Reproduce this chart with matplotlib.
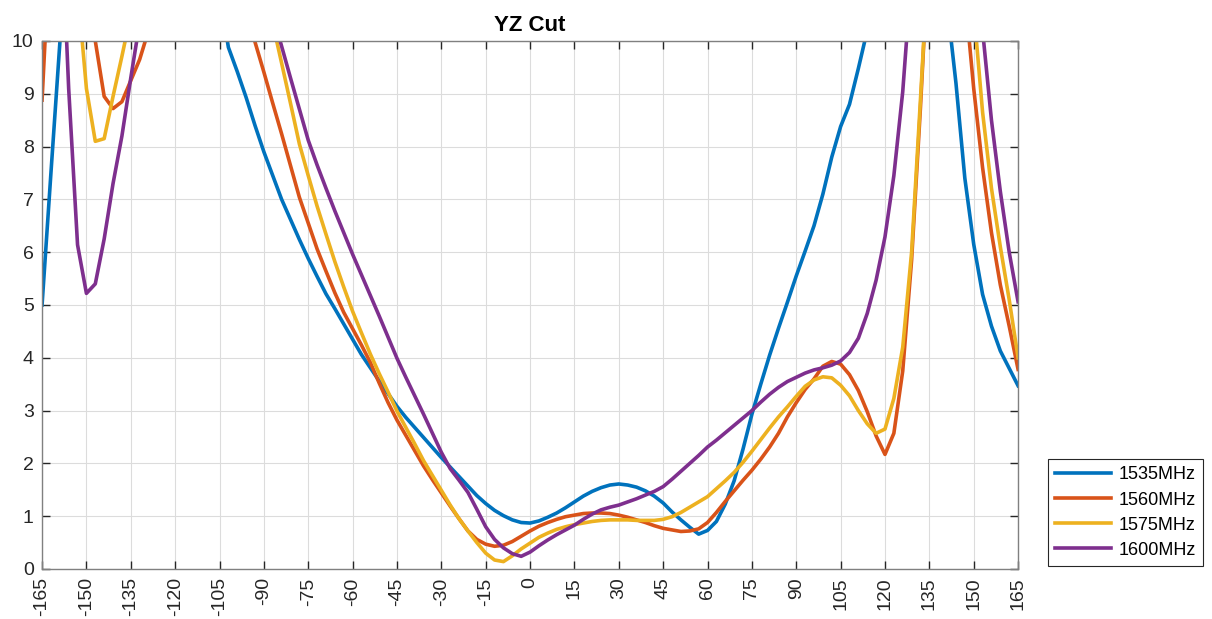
import numpy as np
import matplotlib
matplotlib.use('Agg')
from matplotlib import pyplot as plt

plt.rcParams['font.family'] = ['Liberation Sans', 'DejaVu Sans']
plt.rcParams['axes.unicode_minus'] = False

# angle grid (deg), 3 degree steps
angles = np.arange(-165, 166, 3)

# values above 10 are off the top of the axes
ar_1535 = [5.0, 7.5, 9.95, 13, 18, 20, 20, 20, 20, 20,
           20, 20, 20, 20, 20, 20, 20, 20, 18, 14,
           10.9, 9.88, 9.42, 8.93, 8.40, 7.90, 7.45, 7.0, 6.62, 6.24,
           5.88, 5.54, 5.21, 4.93, 4.64, 4.35, 4.06, 3.81, 3.56, 3.32,
           3.08, 2.87, 2.68, 2.49, 2.30, 2.11, 1.93, 1.75, 1.57, 1.39,
           1.24, 1.11, 1.01, 0.93, 0.88, 0.87, 0.91, 0.98, 1.06, 1.16,
           1.27, 1.38, 1.47, 1.54, 1.59, 1.61, 1.59, 1.55, 1.48, 1.38,
           1.25, 1.08, 0.93, 0.79, 0.66, 0.73, 0.9, 1.23, 1.67, 2.27,
           2.93, 3.5, 4.05, 4.56, 5.05, 5.55, 6.02, 6.5, 7.1, 7.8,
           8.38, 8.8, 9.48, 10.2, 14, 20, 20, 20, 20, 20,
           20, 18, 10.7, 9.2, 7.4, 6.15, 5.2, 4.6, 4.13, 3.8,
           3.47]

ar_1560 = [8.88, 12.2, 20, 20, 20, 13, 10.0, 8.95, 8.72, 8.85,
           9.25, 9.65, 10.2, 14, 20, 20, 20, 20, 20, 20,
           20, 16, 13, 10.6, 9.98, 9.41, 8.82, 8.24, 7.64, 7.04,
           6.55, 6.06, 5.64, 5.23, 4.86, 4.55, 4.24, 3.91, 3.52, 3.15,
           2.82, 2.53, 2.24, 1.95, 1.69, 1.44, 1.19, 0.95, 0.72, 0.56,
           0.47, 0.43, 0.45, 0.52, 0.62, 0.72, 0.81, 0.88, 0.94, 0.99,
           1.02, 1.05, 1.06, 1.06, 1.05, 1.02, 0.98, 0.93, 0.88, 0.82,
           0.77, 0.74, 0.71, 0.72, 0.76, 0.88, 1.07, 1.28, 1.48, 1.68,
           1.87, 2.08, 2.31, 2.57, 2.88, 3.15, 3.4, 3.6, 3.84, 3.93,
           3.88, 3.68, 3.38, 2.98, 2.52, 2.17, 2.57, 3.75, 5.85, 8.75,
           12.0, 20, 20, 16, 10.9, 9.1, 7.6, 6.37, 5.38, 4.6,
           3.78]

ar_1575 = [20, 20, 20, 20, 11, 9.1, 8.1, 8.15, 8.95, 9.71,
           10.5, 14, 20, 20, 20, 20, 20, 20, 20, 20,
           20, 20, 20, 20, 16, 13, 10.33, 9.58, 8.82, 8.05,
           7.45, 6.87, 6.34, 5.82, 5.34, 4.88, 4.47, 4.07, 3.70, 3.35,
           2.99, 2.68, 2.37, 2.05, 1.77, 1.49, 1.21, 0.95, 0.72, 0.5,
           0.3, 0.17, 0.14, 0.25, 0.38, 0.49, 0.6, 0.68, 0.75, 0.8,
           0.84, 0.87, 0.9, 0.92, 0.93, 0.93, 0.93, 0.92, 0.92, 0.92,
           0.94, 0.99, 1.07, 1.17, 1.27, 1.37, 1.52, 1.67, 1.83, 2.02,
           2.23, 2.45, 2.67, 2.88, 3.07, 3.27, 3.46, 3.58, 3.64, 3.62,
           3.48, 3.28, 3.0, 2.75, 2.57, 2.65, 3.23, 4.2, 6.0, 8.9,
           11.9, 20, 20, 20, 16, 10.6, 8.65, 7.21, 6.1, 5.1,
           4.0]

ar_1600 = [20, 20, 13, 9.1, 6.14, 5.22, 5.4, 6.25, 7.3, 8.2,
           9.3, 10.35, 14, 20, 20, 20, 20, 20, 20, 20,
           20, 20, 20, 20, 16, 13, 10.5, 9.9, 9.3, 8.71,
           8.12, 7.65, 7.21, 6.78, 6.37, 5.96, 5.57, 5.18, 4.79, 4.39,
           3.99, 3.63, 3.28, 2.93, 2.57, 2.21, 1.9, 1.68, 1.45, 1.13,
           0.8, 0.56, 0.4, 0.29, 0.24, 0.32, 0.44, 0.55, 0.65, 0.74,
           0.83, 0.94, 1.04, 1.12, 1.17, 1.21, 1.27, 1.33, 1.4, 1.47,
           1.56, 1.7, 1.85, 2.0, 2.15, 2.31, 2.44, 2.58, 2.72, 2.86,
           3.0, 3.16, 3.31, 3.44, 3.55, 3.63, 3.71, 3.77, 3.81, 3.86,
           3.94, 4.1, 4.37, 4.84, 5.47, 6.29, 7.45, 9.04, 11.3, 20,
           20, 20, 20, 20, 20, 20, 10.2, 8.5, 7.15, 6.0,
           5.06]

labels = ['1535MHz', '1560MHz', '1575MHz', '1600MHz']
colors = ['#0072BD', '#D95319', '#EDB120', '#7E2F8E']
x_ticks = list(range(-165, 166, 15))
y_ticks = list(range(0, 11))

fig = plt.figure(figsize=(12.12, 6.19), dpi=100)
ax = fig.add_axes([0.0347, 0.0808, 0.8053, 0.8530])

for vals, lab, col in zip([ar_1535, ar_1560, ar_1575, ar_1600], labels, colors):
    ax.plot(angles, vals, color=col, linewidth=2.6, label=lab)

ax.set_xlim(-165, 165)
ax.set_ylim(0, 10)
ax.set_xticks(x_ticks)
ax.set_xticklabels([str(t) for t in x_ticks], rotation=90)
ax.set_yticks(y_ticks)

ax.grid(True, color='#dcdcdc', linewidth=0.8)
ax.set_axisbelow(True)
ax.tick_params(direction='in', top=True, right=True, length=6, width=1,
               colors='#262626', labelsize=14, pad=6)
for sp in ax.spines.values():
    sp.set_color('#808080')
    sp.set_linewidth(1.0)

ax.set_title('YZ Cut', fontsize=16, fontweight='bold', pad=7)

leg = ax.legend(loc='lower left', bbox_to_anchor=(1048 / 1212, 53 / 619),
                bbox_transform=fig.transFigure, borderaxespad=0,
                fontsize=13, fancybox=False, edgecolor='#262626',
                framealpha=1, handlelength=3.1, labelspacing=0.45,
                borderpad=0.4, handletextpad=0.4)
leg.get_frame().set_linewidth(0.8)

plt.savefig('out.png', dpi=100)
